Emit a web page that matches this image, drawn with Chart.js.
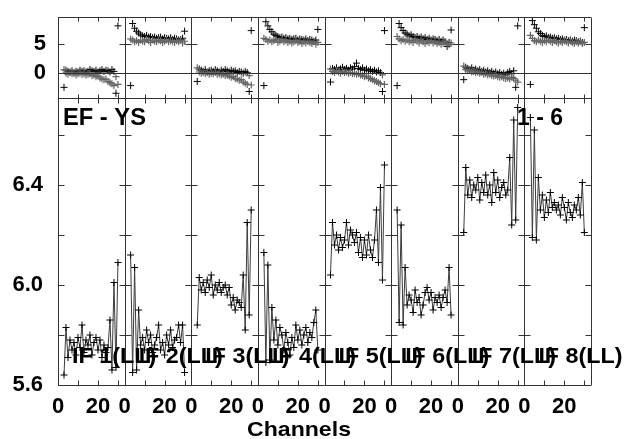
<!DOCTYPE html>
<html>
<head>
<meta charset="utf-8">
<script src="https://cdn.jsdelivr.net/npm/chart.js@4.4.0/dist/chart.umd.min.js"></script>
<style>
  html, body { margin: 0; padding: 0; background: #fff; }
  #plot { display: block; }
</style>
</head>
<body>
<canvas id="plot" width="627" height="439"></canvas>
<script>
// channels plotted in every panel
const channels = [3, 4, 5, 6, 7, 8, 9, 10, 11, 12, 13, 14, 15, 16, 17, 18, 19, 20, 21, 22, 23, 24, 25, 26, 27, 28, 29, 30];
const panelLabels = ['IF 1(LL)', 'IF 2(LL)', 'IF 3(LL)', 'IF 4(LL)', 'IF 5(LL)', 'IF 6(LL)', 'IF 7(LL)', 'IF 8(LL)'];
const mainTicks = [5.6, 6.0, 6.4];
const mainMinor = [5.8, 6.0, 6.2, 6.4, 6.6];
const topTicks = [0, 5];
const xLabelTicks = [0, 20];
const xMinor = [10, 20, 30];

// lower panels (main values)
const main1 = [5.64, 5.83, 5.71, 5.78, 5.74, 5.77, 5.72, 5.79, 5.75, 5.84, 5.73, 5.78, 5.76, 5.80, 5.72, 5.77, 5.79, 5.74, 5.78, 5.71, 5.76, 5.73, 5.75, 5.86, 5.66, 6.01, 5.67, 6.09];
const main2 = [6.12, 5.65, 6.07, 5.66, 5.90, 5.76, 5.79, 5.74, 5.82, 5.77, 5.80, 5.73, 5.76, 5.79, 5.84, 5.74, 5.77, 5.72, 5.80, 5.76, 5.82, 5.75, 5.78, 5.79, 5.84, 5.77, 5.84, 5.65];
const main3 = [5.84, 6.03, 5.98, 6.01, 5.97, 6.02, 5.99, 6.04, 5.96, 6.00, 5.98, 6.01, 5.97, 5.99, 6.00, 5.96, 5.99, 5.92, 5.95, 5.90, 5.94, 5.93, 5.91, 6.04, 5.82, 6.25, 5.88, 6.30];
const main4 = [6.13, 5.69, 6.08, 5.70, 5.91, 5.78, 5.86, 5.76, 5.83, 5.80, 5.74, 5.81, 5.77, 5.72, 5.79, 5.75, 5.84, 5.78, 5.82, 5.76, 5.80, 5.83, 5.77, 5.81, 5.79, 5.85, 5.90, 5.74];
const main5 = [6.04, 6.25, 6.16, 6.20, 6.14, 6.19, 6.15, 6.18, 6.25, 6.16, 6.22, 6.20, 6.17, 6.21, 6.13, 6.19, 6.11, 6.18, 6.12, 6.20, 6.14, 6.11, 6.18, 6.30, 6.09, 6.39, 6.02, 6.48];
const main6 = [6.30, 5.85, 6.24, 5.84, 6.07, 5.92, 5.96, 5.94, 5.89, 5.98, 5.93, 5.95, 5.88, 5.92, 5.97, 5.99, 5.94, 5.97, 5.90, 5.95, 5.93, 5.96, 5.91, 5.95, 5.98, 5.93, 6.07, 5.88];
const main7 = [6.21, 6.47, 6.36, 6.42, 6.35, 6.40, 6.38, 6.43, 6.34, 6.41, 6.37, 6.44, 6.36, 6.40, 6.33, 6.45, 6.37, 6.42, 6.35, 6.39, 6.41, 6.36, 6.38, 6.51, 6.24, 6.66, 6.26, 6.71];
const main8 = [6.67, 6.19, 6.62, 6.18, 6.43, 6.30, 6.36, 6.27, 6.34, 6.29, 6.37, 6.31, 6.33, 6.30, 6.32, 6.28, 6.35, 6.31, 6.26, 6.33, 6.29, 6.27, 6.32, 6.30, 6.35, 6.28, 6.41, 6.21];

// upper panels, black and grey crosses
const top1a = [-2.4, 0.5, 0.3, 0.2, 0.4, 0.1, 0.3, 0.2, 0.5, 0.3, 0.4, 0.2, 0.3, 0.6, 0.4, 0.3, 0.5, 0.2, 0.4, 0.6, 0.3, 0.5, 0.4, 0.2, 0.6, 0.3, -3.4, 8.0];
const top1b = [0.6, 0.0, -0.2, 0.1, -0.1, 0.0, -0.3, -0.1, 0.0, -0.2, -0.1, -0.3, -0.2, -0.1, -0.4, -0.3, -0.6, -0.5, -0.8, -1.0, -1.1, -1.0, -1.4, -1.6, -1.8, -2.1, -0.6, -1.9];
const top2a = [-2.1, 8.4, 7.6, 7.1, 6.8, 6.5, 6.3, 6.2, 6.4, 6.1, 6.2, 6.0, 6.1, 5.9, 6.0, 6.1, 5.8, 6.0, 5.9, 5.8, 6.0, 5.7, 5.9, 5.8, 5.6, 5.7, 5.9, 7.1];
const top2b = [5.8, 5.6, 5.3, 5.5, 5.2, 5.6, 5.4, 5.3, 5.7, 5.5, 5.2, 5.6, 5.4, 5.3, 5.6, 5.5, 5.2, 5.4, 5.6, 5.3, 5.5, 5.4, 5.2, 5.5, 5.3, 5.6, 5.1, 5.4];
const top3a = [-1.4, 0.7, 0.5, 0.3, 0.6, 0.2, 0.4, 0.5, 0.3, 0.6, 0.4, 0.2, 0.5, 0.3, 0.6, 0.4, 0.2, 0.5, 0.3, 0.4, 0.1, 0.3, 0.2, 0.0, 0.3, 0.1, -3.1, 7.2];
const top3b = [0.9, 0.2, 0.0, 0.1, -0.1, 0.1, -0.2, 0.0, -0.1, 0.1, -0.2, -0.1, -0.3, -0.2, -0.4, -0.3, -0.5, -0.7, -0.6, -0.9, -1.0, -1.2, -1.1, -1.5, -1.7, -1.9, -0.4, -2.0];
const top4a = [-2.1, 8.7, 8.0, 7.4, 7.0, 6.6, 6.4, 6.2, 6.0, 6.1, 5.9, 6.0, 5.8, 5.9, 5.7, 5.8, 5.9, 5.6, 5.8, 5.7, 5.6, 5.8, 5.5, 5.7, 5.6, 5.4, 5.6, 7.4];
const top4b = [5.9, 5.7, 5.4, 5.6, 5.3, 5.5, 5.7, 5.2, 5.4, 5.6, 5.3, 5.5, 5.2, 5.4, 5.1, 5.3, 5.5, 5.2, 5.4, 5.0, 5.3, 5.1, 5.4, 5.2, 5.0, 5.3, 4.9, 5.2];
const top5a = [-1.5, 0.8, 0.6, 0.9, 0.5, 0.7, 1.0, 0.6, 0.8, 0.5, 0.9, 0.7, 1.1, 1.7, 0.8, 0.6, 0.9, 0.5, 0.7, 0.4, 0.6, 0.3, 0.5, 0.2, 0.4, 0.1, -3.1, 7.2];
const top5b = [0.7, 0.3, 0.1, 0.4, 0.2, 0.0, 0.3, 0.1, 0.2, 0.0, 0.1, -0.1, 0.0, -0.2, -0.1, -0.3, -0.4, -0.6, -0.5, -0.8, -0.9, -1.1, -1.3, -1.4, -1.6, -1.8, -0.3, -1.9];
const top6a = [-2.1, 8.4, 7.7, 7.2, 6.8, 6.6, 6.3, 6.5, 6.2, 6.0, 6.2, 5.9, 6.1, 5.8, 6.0, 5.7, 5.9, 5.6, 5.8, 5.7, 5.5, 5.7, 5.4, 5.6, 5.3, 4.5, 5.2, 7.3];
const top6b = [6.2, 5.8, 5.5, 5.7, 5.4, 5.6, 5.3, 5.5, 5.2, 5.6, 5.4, 5.1, 5.5, 5.3, 5.0, 5.4, 5.2, 5.5, 5.1, 5.3, 5.0, 5.2, 4.9, 5.1, 5.3, 5.0, 4.8, 5.1];
const top7a = [-1.1, 1.0, 0.8, 0.6, 0.9, 0.5, 0.7, 0.4, 0.6, 0.3, 0.5, 0.2, 0.4, 0.1, 0.3, 0.0, 0.2, -0.1, 0.1, -0.2, 0.0, -0.3, 0.1, 0.3, -0.1, 0.4, -2.4, 8.0];
const top7b = [1.2, 0.6, 0.4, 0.5, 0.2, 0.3, 0.1, 0.2, 0.0, 0.1, -0.2, -0.1, -0.3, -0.2, -0.4, -0.5, -0.4, -0.6, -0.7, -0.6, -0.8, -0.9, -0.8, -1.0, -0.7, -0.9, -1.2, -1.5];
const top8a = [-1.9, 8.9, 8.2, 7.6, 7.0, 6.7, 6.4, 6.2, 6.3, 6.0, 6.1, 5.9, 6.0, 5.8, 5.9, 5.7, 5.8, 5.6, 5.7, 5.5, 5.6, 5.4, 5.6, 5.5, 5.3, 5.4, 5.2, 7.7];
const top8b = [6.4, 5.9, 5.5, 5.3, 5.6, 5.4, 5.2, 5.5, 5.3, 5.6, 5.4, 5.2, 5.5, 5.3, 5.1, 5.4, 5.2, 5.5, 5.3, 5.1, 5.4, 5.2, 5.0, 5.3, 5.1, 5.4, 5.0, 5.2];

const mainValues = [main1, main2, main3, main4, main5, main6, main7, main8];
const topBlack = [top1a, top2a, top3a, top4a, top5a, top6a, top7a, top8a];
const topGrey = [top1b, top2b, top3b, top4b, top5b, top6b, top7b, top8b];

const PW = 100 / 3; // channel span of one panel
const FONT = '"Liberation Sans", Arial, sans-serif';

const datasets = [];
mainValues.forEach((vals, p) => {
  datasets.push({
    data: channels.map((c, i) => ({ x: p * PW + c, y: vals[i] })),
    yAxisID: 'yMain',
    showLine: true,
    borderColor: '#3c3c3c',
    borderWidth: 1,
    pointStyle: 'cross',
    pointRadius: 3.5,
    pointBorderColor: '#000',
    pointBorderWidth: 1
  });
  datasets.push({
    data: channels.map((c, i) => ({ x: p * PW + c, y: topGrey[p][i] })),
    yAxisID: 'yTop',
    showLine: false,
    pointStyle: 'cross',
    pointRadius: 3.5,
    pointBorderColor: '#666',
    pointBorderWidth: 1.2
  });
  datasets.push({
    data: channels.map((c, i) => ({ x: p * PW + c, y: topBlack[p][i] })),
    yAxisID: 'yTop',
    showLine: false,
    pointStyle: 'cross',
    pointRadius: 3.5,
    pointBorderColor: '#000',
    pointBorderWidth: 1
  });
});

function seg(ctx, x1, y1, x2, y2) {
  ctx.beginPath();
  ctx.moveTo(x1, y1);
  ctx.lineTo(x2, y2);
  ctx.stroke();
}

function stretched(ctx, text, x, y, sx) {
  ctx.save();
  ctx.translate(x, y);
  ctx.scale(sx, 1);
  ctx.fillText(text, 0, 0);
  ctx.restore();
}

// y axes sit on fixed edges: drop the label overflow padding
function fitY(s) {
  s.width = 58;
  s.paddingTop = 0;
  s.paddingBottom = 0;
}

const framePlugin = {
  id: 'frame',
  afterDatasetsDraw(chart) {
    const { ctx, chartArea, scales } = chart;
    const xs = scales.x, ym = scales.yMain, yt = scales.yTop;
    const L = chartArea.left, R = chartArea.right;
    const top = Math.round(chartArea.top) + 0.5, bot = Math.round(chartArea.bottom) + 0.5;
    const mid = Math.round(ym.top < yt.top ? yt.top : ym.top) + 0.5;
    ctx.save();
    ctx.strokeStyle = '#333';
    ctx.lineWidth = 1;
    seg(ctx, L, top, R, top);
    seg(ctx, L, mid, R, mid);
    seg(ctx, L, bot, R, bot);
    const y0 = Math.round(yt.getPixelForValue(0)) + 0.5;
    seg(ctx, L, y0, R, y0);
    for (let p = 0; p <= 8; p++) {
      const px = Math.round(xs.getPixelForValue(p * PW)) + 0.5;
      seg(ctx, px, top, px, bot);
      const l = p === 0 ? 0 : 6, r = p === 8 ? 0 : 6;
      mainMinor.forEach(v => {
        const py = Math.round(ym.getPixelForValue(v)) + 0.5;
        seg(ctx, px - l, py, px + r, py);
      });
      const p5 = Math.round(yt.getPixelForValue(5)) + 0.5;
      seg(ctx, px - l, p5, px + r, p5);
    }
    for (let p = 0; p < 8; p++) {
      xMinor.forEach(c => {
        const px = Math.round(xs.getPixelForValue(p * PW + c)) + 0.5;
        seg(ctx, px, top, px, top + 4);
        seg(ctx, px, mid - 4, px, mid + 5);
        seg(ctx, px, bot - 5, px, bot);
      });
    }
    ctx.restore();
  },
  afterDraw(chart) {
    const { ctx, chartArea, scales } = chart;
    const xs = scales.x;
    ctx.save();
    ctx.fillStyle = '#000';
    ctx.textBaseline = 'alphabetic';
    ctx.font = 'bold 22px ' + FONT;
    panelLabels.forEach((t, p) => {
      stretched(ctx, t, xs.getPixelForValue(p * PW) + 14, 363, 1.06);
    });
    ctx.font = 'bold 23px ' + FONT;
    stretched(ctx, 'EF - YS', chartArea.left + 5, 125, 1.03);
    stretched(ctx, '1 - 6', 517, 125, 1.0);
    ctx.font = 'bold 21px ' + FONT;
    ctx.textAlign = 'center';
    stretched(ctx, 'Channels', 299, 436, 1.1);
    ctx.restore();
  }
};

const tickFont = { family: FONT, size: 22, weight: 'bold' };

new Chart(document.getElementById('plot'), {
  type: 'scatter',
  data: { datasets },
  options: {
    responsive: false,
    animation: false,
    layout: { padding: { top: 17, right: 36, left: 0, bottom: 0 } },
    plugins: { legend: { display: false }, tooltip: { enabled: false } },
    scales: {
      x: {
        type: 'linear',
        min: 0,
        max: 8 * PW,
        grid: { display: false, drawTicks: false },
        border: { display: false },
        afterBuildTicks: s => {
          const t = [];
          for (let p = 0; p < 8; p++) xLabelTicks.forEach(c => t.push({ value: p * PW + c }));
          s.ticks = t;
        },
        afterFit: s => { s.height = 54; s.paddingLeft = 0; s.paddingRight = 0; },
        ticks: {
          autoSkip: false,
          maxRotation: 0,
          padding: 9,
          color: '#000',
          font: tickFont,
          callback: (v, i) => String(xLabelTicks[i % 2])
        }
      },
      yMain: {
        type: 'linear',
        position: 'left',
        stack: 'rows',
        stackWeight: 287,
        min: 5.6,
        max: 6.748,
        grid: { display: false, drawTicks: false },
        border: { display: false },
        afterBuildTicks: s => { s.ticks = mainTicks.map(v => ({ value: v })); },
        afterFit: fitY,
        ticks: { padding: 15, color: '#000', font: tickFont, callback: v => v.toFixed(1) }
      },
      yTop: {
        type: 'linear',
        position: 'left',
        stack: 'rows',
        stackWeight: 81,
        min: -4.2,
        max: 9.5,
        grid: { display: false, drawTicks: false },
        border: { display: false },
        afterBuildTicks: s => { s.ticks = topTicks.map(v => ({ value: v })); },
        afterFit: fitY,
        ticks: { padding: 12, color: '#000', font: tickFont, callback: v => String(v) }
      }
    }
  },
  plugins: [framePlugin]
});
</script>
</body>
</html>
